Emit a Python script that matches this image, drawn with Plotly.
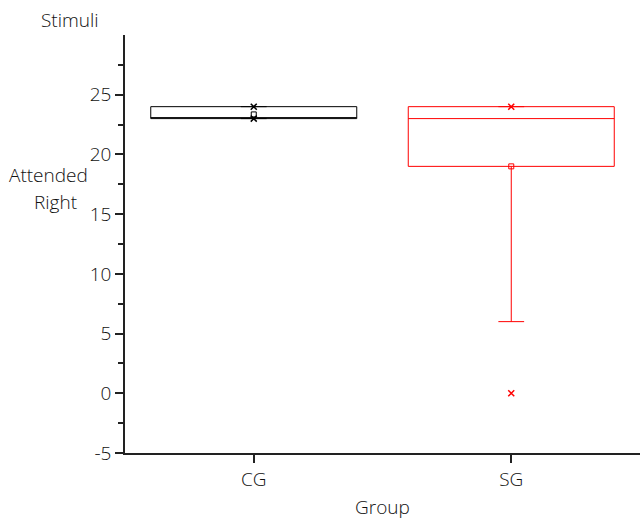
import plotly.graph_objects as go

groups = ["CG", "SG"]
q1 = [23, 19]
median = [23, 23]
q3 = [24, 24]
lower_whisker = [23, 6]
upper_whisker = [24, 24]
means = [23.35, 19]
p_low = [23, 0]
p_high = [24, 24]
colors = ["black", "red"]
ytick_vals = [-5, 0, 5, 10, 15, 20, 25]
ytick_text = ["-5", "0", "5", "10", "15", "20", "25"]
yminor_vals = [-2.5, 2.5, 7.5, 12.5, 17.5, 22.5, 27.5]

FONT = "Open Sans"
FW = 300
FS = 19
TXT = "#111111"

fig = go.Figure()
for i, g in enumerate(groups):
    fig.add_trace(go.Box(
        x=[g], q1=[q1[i]], median=[median[i]], q3=[q3[i]],
        lowerfence=[lower_whisker[i]], upperfence=[upper_whisker[i]],
        width=0.8, whiskerwidth=0.125, boxpoints=False,
        line=dict(color=colors[i], width=1), fillcolor="rgba(0,0,0,0)",
        showlegend=False, hoverinfo="skip",
    ))
    fig.add_trace(go.Scatter(
        x=[g], y=[means[i]], mode="markers",
        marker=dict(symbol="square-open", size=5, color=colors[i], line=dict(width=1)),
        showlegend=False,
    ))
    fig.add_trace(go.Scatter(
        x=[g, g], y=[p_low[i], p_high[i]], mode="markers",
        marker=dict(symbol="x-thin-open", size=6, color=colors[i], line=dict(width=1.5, color=colors[i])),
        showlegend=False,
    ))

fnt = dict(family=FONT, size=FS, color=TXT, weight=FW)
W, H = 640, 520
L, T, R, B = 125, 35, 0, 67
fig.update_layout(
    width=W, height=H,
    margin=dict(l=L, r=R, t=T, b=B),
    plot_bgcolor="white", paper_bgcolor="white",
    font=fnt,
    xaxis=dict(
        type="category", range=[-0.5, 1.5], showline=True, linecolor="#222", linewidth=1.5,
        ticks="outside", ticklen=8, tickwidth=1.5, tickcolor="#222", showgrid=False,
        zeroline=False, title=dict(text="Group", standoff=10, font=fnt),
        tickfont=fnt,
    ),
    yaxis=dict(
        range=[-5, 30], tickvals=ytick_vals, ticktext=ytick_text, showline=True, linecolor="#222",
        linewidth=1.5, ticks="outside", ticklen=8, tickwidth=1.5, tickcolor="#222",
        showgrid=False, zeroline=False, tickfont=fnt,
        minor=dict(tickvals=yminor_vals, ticks="outside",
                   ticklen=5, tickwidth=1.5, tickcolor="#222"),
    ),
)
pw, ph = W - L - R, H - T - B
for text, px, py in [("Stimuli", 70, 20), ("Attended", 48, 175), ("Right", 55, 202)]:
    fig.add_annotation(
        text=text, xref="paper", yref="paper",
        x=(px - L) / pw, y=(H - B - py) / ph,
        xanchor="center", yanchor="middle", showarrow=False, font=fnt,
    )

fig.write_html(
    "out.html",
    config={"displayModeBar": False},
    post_script="document.body.style.margin='0';document.body.style.overflow='hidden';",
)
